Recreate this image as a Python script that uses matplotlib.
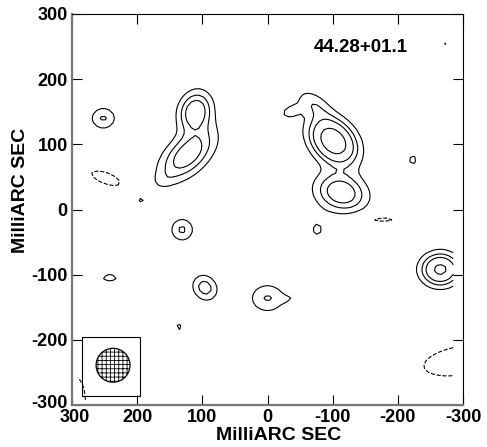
import numpy as np
import matplotlib
matplotlib.use("Agg")
import matplotlib.pyplot as plt
import matplotlib.transforms as mtransforms
from matplotlib.patches import Rectangle, Ellipse

plt.rcParams['font.family'] = ['Liberation Sans', 'DejaVu Sans']
plt.rcParams['font.weight'] = 'bold'
plt.rcParams['hatch.linewidth'] = 0.6

# ---- data: Gaussian components (position in mas, amplitude, widths) ----
comp_x     = [-101, -70, -35, -113, 111, 123, 160, 252, 248, 194, 131, 242, 96, 136, 0, -32, -76, -265, -295, -271, -175, -223, 296]
comp_y     = [105, 162, 150, 26, 150, 84, 45, 140, 48, 15, -31, -105, -120, -180, -136, -137, -31, -92, -232, 256, -15, 76, -295]
comp_amp   = [7.0, 1.7, 1.4, 4.2, 4.3, 4.0, 0.5, 2.15, -1.35, 1.2, 2.2, 1.15, 2.6, 1.2, 2.1, 0.7, 1.1, 5.6, -1.5, 1.15, -1.2, 1.2, -2.0]
comp_smaj  = [27, 20, 12, 26.5, 21, 34, 14, 13.7, 30, 7, 12.5, 19, 14.5, 7, 19, 10, 14, 19.5, 62, 6, 28, 8, 14]
comp_smin  = [19.5, 12, 8, 19, 16.5, 18.5, 9, 12, 11, 7, 12.5, 10, 12.5, 7, 15.6, 5, 17, 16.5, 24, 6, 7, 11, 33]
comp_theta = [-45, -35, 20, -15, 72, 42, 30, 0, -20, 0, 0, 0, -50, 0, 0, 0, 0, 0, 10, 0, 0, 0, 0]

levels = [-1, 1, 2, 3, 5]

x_ticks = [300, 200, 100, 0, -100, -200, -300]
y_ticks = [300, 200, 100, 0, -100, -200, -300]
x_ticklabels = ['300', '200', '100', '0', '-100', '-200', '-300']
y_ticklabels = ['300', '200', '100', '0', '-100', '-200', '-300']
title_text = '44.28+01.1'
axis_label = 'MilliARC SEC'

beam_box = (195.6, -286, 89, 90.4)
beam_center = (237, -239)
beam_diam = 52

# coarse map grid (gives the polygonal contour look of the original map)
gx = np.arange(-285, 295, 6.0)
gy = np.arange(-292, 291, 6.0)
X, Y = np.meshgrid(gx, gy)
Z = np.zeros_like(X)
U, V = -X, Y
for cx, cy, a, smj, smn, th in zip(comp_x, comp_y, comp_amp, comp_smaj, comp_smin, comp_theta):
    t = np.deg2rad(th)
    du, dv = U - (-cx), V - cy
    p = du*np.cos(t) + dv*np.sin(t)
    q = -du*np.sin(t) + dv*np.cos(t)
    Z += a*np.exp(-0.5*((p/smj)**2 + (q/smn)**2))

fig = plt.figure(figsize=(4.87, 4.47), dpi=100)
ax = fig.add_axes([72/487, 42/447, 391/487, 391/447])

ax.add_patch(Rectangle(beam_box[:2], beam_box[2], beam_box[3], facecolor='white',
                       edgecolor='black', lw=0.8, zorder=1))
ax.add_patch(Ellipse(beam_center, beam_diam, beam_diam, facecolor='white', edgecolor='black',
                     lw=0.9, hatch='++++', zorder=1.5))

ax.contour(X, Y, Z, levels=levels, colors='black', linewidths=0.8,
           linestyles=['dashed' if l < 0 else 'solid' for l in levels], zorder=2)

ax.set_xlim(300, -300)
ax.set_ylim(-300, 300)
ax.set_xticks(x_ticks)
ax.set_xticklabels(x_ticklabels)
ax.set_yticks(y_ticks)
ax.set_yticklabels(y_ticklabels)
ax.tick_params(direction='in', length=7, width=0.8, top=True, right=True,
               labelsize=13, pad=3)
for lab in ax.get_xticklabels() + ax.get_yticklabels():
    lab.set_fontweight('bold')
# small nudges at the crowded lower-left corner, as in the reference
ylabs = ax.get_yticklabels()
ylabs[-1].set_transform(ylabs[-1].get_transform() +
                        mtransforms.ScaledTranslation(0, 4/100, fig.dpi_scale_trans))
xlabs = ax.get_xticklabels()
xlabs[0].set_transform(xlabs[0].get_transform() +
                       mtransforms.ScaledTranslation(3/100, 0, fig.dpi_scale_trans))

for s in ['left', 'bottom']:
    ax.spines[s].set_color('#777777')
    ax.spines[s].set_linewidth(1.6)
for s in ['top', 'right']:
    ax.spines[s].set_color('black')
    ax.spines[s].set_linewidth(0.8)

ax.text(-143, 248, title_text, ha='center', va='center', fontsize=13.5, fontweight='bold')
fig.text(279/487, 1-436/447, axis_label, ha='center', va='center', fontsize=14, fontweight='bold')
fig.text(21/487, 1-190/447, axis_label, ha='center', va='center', rotation=90,
         fontsize=14, fontweight='bold')

fig.savefig('out.png', dpi=100)
